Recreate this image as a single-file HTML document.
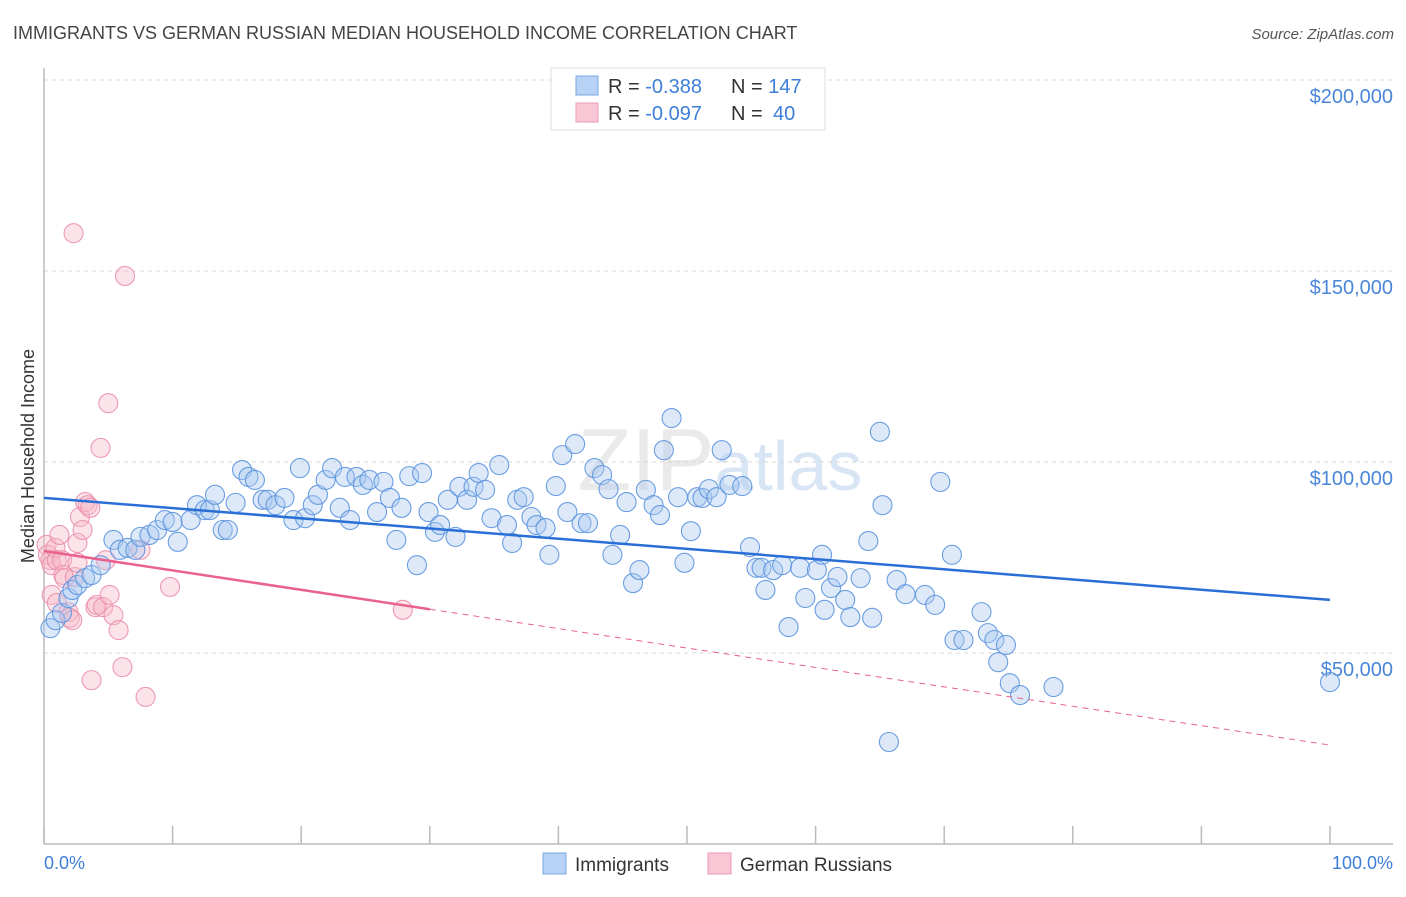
<!DOCTYPE html>
<html><head><meta charset="utf-8">
<style>
html,body{margin:0;padding:0;background:#fff;}
body{width:1406px;height:892px;overflow:hidden;font-family:"Liberation Sans",sans-serif;}
svg text{font-family:"Liberation Sans",sans-serif;}
</style></head>
<body>
<svg id="chart" width="1406" height="892" xmlns="http://www.w3.org/2000/svg">
<text x="13" y="39" font-size="18" fill="#444">IMMIGRANTS VS GERMAN RUSSIAN MEDIAN HOUSEHOLD INCOME CORRELATION CHART</text>
<text x="1394" y="39" font-size="15" fill="#555" text-anchor="end" font-style="italic">Source: ZipAtlas.com</text>
<text x="720" y="490" font-size="88" fill="#dfe8f3" text-anchor="middle" font-family="Liberation Serif" opacity="0.8"><tspan fill="#e6e6e6">ZIP</tspan><tspan font-family="Liberation Sans" font-size="70" fill="#cfdff2">atlas</tspan></text>
<g id="grid"></g>
<g id="axes"></g>
<g id="pinkpts"></g>
<g id="bluepts"></g>
<g id="trends"></g>
<text transform="translate(34,456) rotate(-90)" font-size="18" fill="#333" text-anchor="middle">Median Household Income</text>
<text x="44" y="869" font-size="18" fill="#3d7fd8">0.0%</text>
<text x="1393" y="869" font-size="18" fill="#3d7fd8" text-anchor="end">100.0%</text>
<g>
<rect x="551" y="68" width="274" height="62" fill="#fff" stroke="#ddd"/>
<rect x="576" y="76" width="22" height="19" fill="#b7d2f4" stroke="#7aa7e2"/>
<rect x="576" y="103" width="22" height="19" fill="#f9c6d5" stroke="#ec9ab2"/>
<text x="608" y="93" font-size="20" fill="#333">R = <tspan fill="#3d7fd8">-0.388</tspan><tspan x="731">N = </tspan><tspan fill="#3d7fd8">147</tspan></text>
<text x="608" y="120" font-size="20" fill="#333">R = <tspan fill="#3d7fd8">-0.097</tspan><tspan x="731">N = </tspan><tspan fill="#3d7fd8" x="773">40</tspan></text>
</g>
<g>
<rect x="543" y="853" width="23" height="21" fill="#b7d2f4" stroke="#7aa7e2"/>
<text x="575" y="871" font-size="19" fill="#333">Immigrants</text>
<rect x="708" y="853" width="23" height="21" fill="#f9c6d5" stroke="#ec9ab2"/>
<text x="740" y="871" font-size="19" fill="#333">German Russians</text>
</g>
</svg>
<script>
const yTicks=[50000,100000,150000,200000];
const yTickLabels=["$50,000","$100,000","$150,000","$200,000"];
const xTicks=[0,10,20,30,40,50,60,70,80,90,100];
const blueX=[0.5,0.9,1.4,1.9,2.2,2.6,3.2,3.7,4.4,5.4,5.9,6.5,7.1,7.5,8.2,8.8,9.4,10.0,10.4,11.4,11.9,12.5,12.9,13.3,13.9,14.3,14.9,15.4,15.9,16.4,17.0,17.4,18.0,18.7,19.4,19.9,20.3,20.9,21.3,21.9,22.4,23.0,23.4,23.8,24.3,24.8,25.3,25.9,26.4,26.9,27.4,27.8,28.4,29.0,29.4,29.9,30.4,30.8,31.4,32.0,32.3,32.9,33.4,33.8,34.3,34.8,35.4,36.0,36.4,36.8,37.3,37.9,38.3,39.0,39.3,39.8,40.3,40.7,41.3,41.8,42.3,42.8,43.4,43.9,44.2,44.8,45.3,45.8,46.3,46.8,47.4,47.9,48.2,48.8,49.3,49.8,50.3,50.8,51.2,51.7,52.3,52.7,53.3,54.3,54.9,55.4,55.8,56.1,56.7,57.4,57.9,58.8,59.2,60.1,60.5,60.7,61.2,61.7,62.3,62.7,63.5,64.1,64.4,65.0,65.2,65.7,66.3,67.0,68.5,69.3,69.7,70.6,70.8,71.5,72.9,73.4,73.9,74.2,74.8,75.1,75.9,78.5,100];
const blueY=[56.5,58.6,60.5,64.4,66.5,67.8,69.6,70.4,73.0,79.6,77.0,77.5,77.0,80.4,80.9,82.2,84.8,84.3,79.1,84.8,88.7,87.4,87.4,91.4,82.2,82.2,89.3,97.9,96.1,95.3,90.1,90.1,88.7,90.6,84.8,98.4,85.3,88.7,91.4,95.3,98.4,88.0,96.1,84.8,96.1,94.0,95.3,86.9,94.8,90.6,79.6,88.0,96.3,73.0,97.1,86.9,81.7,83.5,90.1,80.4,93.5,90.1,93.5,97.1,92.7,85.3,99.2,83.5,78.8,90.1,90.8,85.6,83.5,82.7,75.7,93.7,101.8,86.9,104.7,84.0,84.0,98.4,96.6,92.9,75.7,80.9,89.5,68.3,71.7,92.7,88.7,86.1,103.1,111.5,90.8,73.6,81.9,90.8,90.6,92.9,90.8,103.1,94.0,93.7,77.7,72.3,72.3,66.5,71.7,73.0,56.8,72.3,64.4,71.7,75.7,61.3,67.0,69.9,63.9,59.4,69.6,79.3,59.2,107.9,88.7,26.7,69.1,65.4,65.2,62.6,94.8,75.7,53.4,53.4,60.7,55.2,53.4,47.6,52.1,42.1,39.0,41.1,42.4];
const pinkX=[0.2,0.3,0.5,0.6,0.9,1.0,0.6,1.0,1.2,1.4,1.5,1.6,1.9,2.0,2.2,2.3,2.4,2.6,2.6,2.8,3.0,3.2,3.4,3.6,3.7,4.0,4.1,4.4,4.6,4.8,5.0,5.1,5.4,5.8,6.1,6.3,7.5,7.9,9.8,27.9];
const pinkY=[78.3,75.7,74.3,73.0,77.5,74.3,65.2,63.1,80.9,74.3,70.4,69.6,60.7,59.2,58.6,159.9,69.9,78.8,73.6,85.6,82.2,89.5,88.7,88.0,42.9,62.0,62.6,103.7,62.0,74.3,115.4,65.2,59.9,56.0,46.3,148.7,77.0,38.5,67.3,61.3];
const blueTrend=[90.6,63.9];
const pinkTrend=[76.7,25.9];
const pinkSolidEnd=30;

const NS="http://www.w3.org/2000/svg";
function sx(p){return 44+p*12.86;}
function sy(k){return 844-k*3.82;}
function mk(tag,attrs,parent){const e=document.createElementNS(NS,tag);for(const k in attrs)e.setAttribute(k,attrs[k]);parent.appendChild(e);return e;}
const grid=document.getElementById('grid'),axes=document.getElementById('axes');
yTicks.forEach((v,i)=>{
  const y=sy(v/1000);
  const l=mk('line',{x1:44,x2:1393,y1:y,y2:y,stroke:'#d8d8d8','stroke-dasharray':'4,4'},grid);
  
  
  const t=mk('text',{x:1393,y:y+23,'font-size':20,fill:'#4a86da','text-anchor':'end'},grid);
  t.textContent=yTickLabels[i];
  
  
});
const ya=mk('line',{x1:44,x2:44,y1:68,y2:844,stroke:'#bbb','stroke-width':1.5},axes);


const xa=mk('line',{x1:44,x2:1393,y1:844,y2:844,stroke:'#bbb','stroke-width':1.5},axes);


xTicks.forEach(p=>{
  const t=mk('line',{x1:sx(p),x2:sx(p),y1:826,y2:844,stroke:'#bbb','stroke-width':1.5},axes);
  
  
});
function pts(xs,ys,g,fill,stroke,name){
  xs.forEach((x,i)=>{
    const c=mk('circle',{cx:sx(x),cy:sy(ys[i]),r:9.5,fill:fill,'fill-opacity':0.4,stroke:stroke,'stroke-width':1.1,'stroke-opacity':0.9},g);
    
    
  });
}
pts(pinkX,pinkY,document.getElementById('pinkpts'),'#f7b8cb','#ea8fac','german-russian-point');
pts(blueX,blueY,document.getElementById('bluepts'),'#a9c9f1','#5b93de','immigrant-point');
const tr=document.getElementById('trends');
const bl=mk('line',{x1:sx(0),y1:sy(blueTrend[0]),x2:sx(100),y2:sy(blueTrend[1]),stroke:'#2a6fd6','stroke-width':2.5},tr);


const pm=pinkTrend[0]+(pinkTrend[1]-pinkTrend[0])*pinkSolidEnd/100;
const ps=mk('line',{x1:sx(0),y1:sy(pinkTrend[0]),x2:sx(pinkSolidEnd),y2:sy(pm),stroke:'#e8628d','stroke-width':2.5},tr);


const pd=mk('line',{x1:sx(pinkSolidEnd),y1:sy(pm),x2:sx(100),y2:sy(pinkTrend[1]),stroke:'#e8628d','stroke-width':1,'stroke-dasharray':'6,5'},tr);


</script>
</body></html>
